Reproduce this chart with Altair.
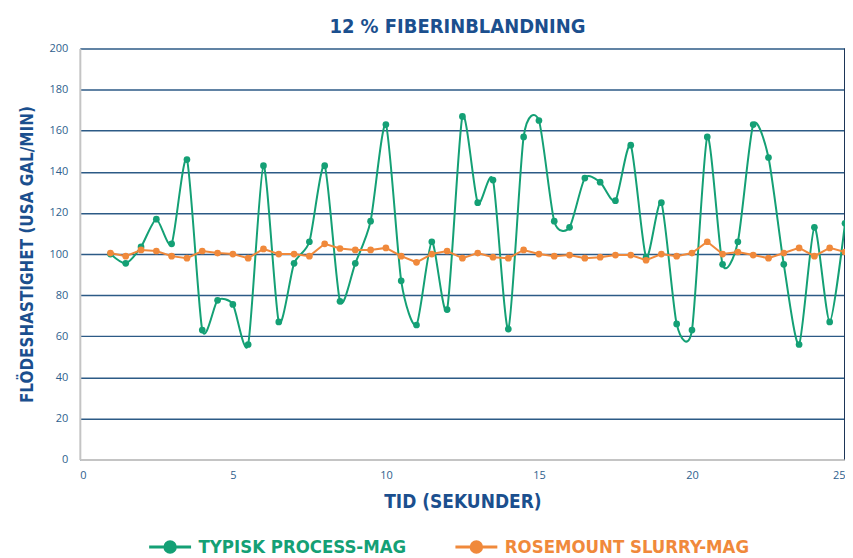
import altair as alt
import pandas as pd

times = [1, 1.5, 2, 2.5, 3, 3.5, 4, 4.5, 5, 5.5, 6, 6.5, 7, 7.5, 8, 8.5, 9, 9.5, 10,
         10.5, 11, 11.5, 12, 12.5, 13, 13.5, 14, 14.5, 15, 15.5, 16, 16.5, 17, 17.5,
         18, 18.5, 19, 19.5, 20, 20.5, 21, 21.5, 22, 22.5, 23, 23.5, 24, 24.5, 25]

typisk = [100, 95.5, 103.5, 117, 105, 146, 63, 77.5, 75.5, 56, 143, 67, 95.5, 106, 143,
          77, 95.5, 116, 163, 87, 65.5, 106, 73, 167, 125, 136, 63.5, 157, 165, 116,
          113, 137, 135, 126, 153, 98.5, 125, 66, 63, 157, 95, 106, 163, 147, 95, 56,
          113, 67, 115]

rosemount = [100.5, 99, 102, 101.5, 99, 98, 101.5, 100.5, 100, 98, 102.5, 100, 100, 99,
             105, 102.7, 102, 102, 103, 99, 96, 100, 101.5, 98, 100.5, 98.5, 98, 102,
             100, 99, 99.5, 98, 98.5, 99.5, 99.5, 97, 100, 99, 100.5, 106, 100, 101,
             99.5, 98, 100.5, 103, 99, 103, 101]

S1 = "TYPISK PROCESS-MAG"
S2 = "ROSEMOUNT SLURRY-MAG"
GREEN = "#14a075"
ORANGE = "#f0893b"
BLUE = "#1b4f8e"
LABEL = "#2f5f8e"
FONT = "Liberation Sans Narrow, DejaVu Sans Condensed, Arial Narrow, sans-serif"

df1 = pd.DataFrame({"t": times, "v": typisk, "s": S1})
df2 = pd.DataFrame({"t": times, "v": rosemount, "s": S2})

xenc = alt.X("t:Q", scale=alt.Scale(domain=[0, 25], nice=False),
             axis=alt.Axis(values=[0, 5, 10, 15, 20, 25], title="TID (SEKUNDER)"))
yenc = alt.Y("v:Q", scale=alt.Scale(domain=[0, 200], nice=False),
             axis=alt.Axis(values=list(range(0, 201, 20)),
                           title="FLÖDESHASTIGHET (USA GAL/MIN)", grid=True))

sym = "M-1,0L1,0M0.25,0A0.25,0.25,0,1,1,-0.25,0A0.25,0.25,0,1,1,0.25,0Z"
col_expr = f"datum.value == '{S1}' ? '{GREEN}' : '{ORANGE}'"
color = alt.Color(
    "s:N",
    scale=alt.Scale(domain=[S1, S2], range=[GREEN, ORANGE]),
    legend=alt.Legend(
        title=None, orient="none", legendX=68, legendY=477, direction="horizontal",
        symbolType=sym, symbolSize=1764, symbolStrokeWidth=3,
        symbolFillColor=alt.ExprRef(expr=col_expr),
        symbolStrokeColor=alt.ExprRef(expr=col_expr),
        symbolOpacity=1,
        labelColor=alt.ExprRef(expr=f"datum.label == '{S1}' ? '{GREEN}' : '{ORANGE}'"),
        labelFont=FONT, labelFontSize=18.5, labelFontWeight="bold", labelOffset=6,
        columnPadding=42, labelLimit=400,
    ),
)

l1 = alt.Chart(df1).mark_line(
    interpolate="cardinal", tension=0.3, strokeWidth=2,
    point=alt.OverlayMarkDef(filled=True, size=45, opacity=1),
).encode(x=xenc, y=yenc, color=color)

l2 = alt.Chart(df2).mark_line(
    strokeWidth=2,
    point=alt.OverlayMarkDef(filled=True, size=45, opacity=1),
).encode(x=xenc, y=yenc, color=color)

right = alt.Chart(pd.DataFrame({"t": [25]})).mark_rule(color="#1d3557", strokeWidth=2).encode(
    x=alt.X("t:Q", scale=alt.Scale(domain=[0, 25], nice=False)),
    y=alt.value(0), y2=alt.value(412))

chart = alt.layer(right, l1, l2).properties(
    width=767, height=412,
    autosize=alt.AutoSizeParams(type="none"),
    padding={"left": 72, "top": 40, "right": 0, "bottom": 100},
    title=alt.TitleParams("12 % FIBERINBLANDNING", font=FONT, fontSize=20,
                          fontWeight="bold", color=BLUE, offset=6, dx=-5),
).configure_view(stroke=None).configure_axis(
    labelColor=LABEL, labelFontSize=11, labelFont="Open Sans, sans-serif",
    ticks=False, domainColor="#c4c4c4", domainWidth=2,
    titleFont=FONT, titleFontWeight="bold", titleColor=BLUE,
).configure_axisY(
    gridColor="#2c5a86", gridWidth=1.5, labelPadding=12, titlePadding=13,
    titleFontSize=17,
).configure_axisX(
    grid=False, labelPadding=10, titlePadding=12, titleFontSize=19,
)

chart.save("out.html", embed_options={"renderer": "svg", "actions": False})
